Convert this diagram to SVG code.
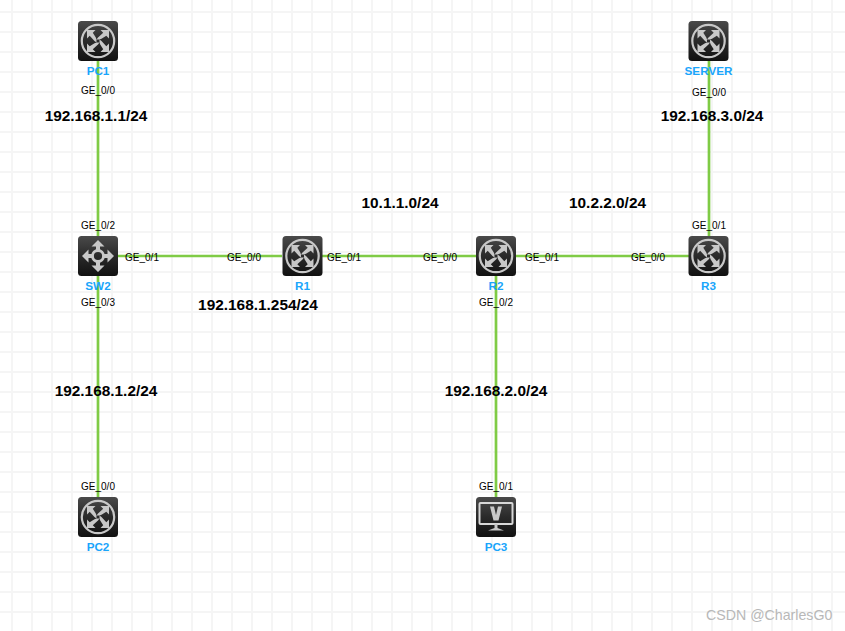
<svg xmlns="http://www.w3.org/2000/svg" width="845" height="631" viewBox="0 0 845 631">
<style>
.grid{stroke:#f5f5f5;stroke-width:2;fill:none}
.link{stroke:#7fcb45;stroke-width:2.7;fill:none}
.port{font:10px "Liberation Sans",Arial,sans-serif;fill:#000;text-anchor:middle}
.name{font:bold 11.7px "Liberation Sans",Arial,sans-serif;fill:#1aa5fb;text-anchor:middle}
.net{font:bold 15.4px "Liberation Sans",Arial,sans-serif;fill:#000;text-anchor:middle}
.glyph{fill:#c8c8c8;stroke:none}
.ring{fill:none;stroke:#c8c8c8;stroke-width:2.2}
.wm{font:14.2px "Liberation Sans",Arial,sans-serif;fill:#b8b8b8}
</style>
<defs>
<linearGradient id="body" x1="0" y1="0" x2="0" y2="1"><stop offset="0" stop-color="#4a4a4a"/><stop offset="0.5" stop-color="#2a2a2a"/><stop offset="1" stop-color="#111"/></linearGradient>
<path id="rarm" class="glyph" d="M11 -11V-2.5L8.3 -5.2L3.5 -2.2L1.5 -1.5L-1.5 -1.5L0 -3.5L5.2 -8.3L2.5 -11Z"/>
<g id="router">
<rect x="-20" y="-20" width="40" height="40" rx="3.5" fill="url(#body)"/>
<circle class="ring" r="16.2"/>
<use href="#rarm"/>
<use href="#rarm" transform="rotate(90)"/>
<use href="#rarm" transform="rotate(180)"/>
<use href="#rarm" transform="rotate(270)"/>
</g>
<g id="switch">
<rect x="-20" y="-20" width="40" height="40" rx="3.5" fill="url(#body)"/>
<circle r="5.5" fill="none" stroke="#c8c8c8" stroke-width="2.8"/>
<path class="glyph" d="M0 -16L6.5 -9.5H2V-6H-2V-9.500H-6.500ZM0 16L6.500 9.500H2V6H-2V9.500H-6.500ZM-16 0L-9.500 -6.500V-2H-6V2H-9.500V6.500ZM16 0L9.500 -6.500V-2H6V2H9.500V6.500Z"/>
</g>
<g id="pc">
<rect x="-20" y="-20" width="40" height="40" rx="3.5" fill="url(#body)"/>
<rect x="-16.500" y="-14" width="33" height="21" rx="1" fill="none" stroke="#d8d8d8" stroke-width="2"/>
<path class="glyph" d="M-6 -10.500H-2L0 -2L2 -10.500H6L2.500 3.500H-2.500Z"/>
<path class="glyph" d="M-1.500 7H1.500V11L8 13.500H-8L-1.500 11Z"/>
</g>
<pattern id="gridp" x="2" y="2" width="20" height="20" patternUnits="userSpaceOnUse"><path class="grid" d="M10 0V20M0 10H20"/></pattern>
</defs>
<rect width="845" height="631" fill="#fff"/>
<rect id="grid" width="845" height="631" fill="url(#gridp)"/>
<g id="connectors">
<path class="link" d="M98 61V236"/>
<path class="link" d="M98 276V497"/>
<path class="link" d="M118 256H282"/>
<path class="link" d="M322 256H476"/>
<path class="link" d="M516 256H689"/>
<path class="link" d="M709 61V236"/>
<path class="link" d="M496 276V497"/>
</g>
<g id="node-pc1"><use href="#router" x="98" y="41"/><text class="name" x="98" y="75">PC1</text></g>
<g id="node-server"><use href="#router" x="708.500" y="41"/><text class="name" x="708.500" y="75">SERVER</text></g>
<g id="node-sw2"><use href="#switch" x="98" y="256"/><text class="name" x="98" y="290">SW2</text></g>
<g id="node-r1"><use href="#router" x="302.500" y="256"/><text class="name" x="302.500" y="290">R1</text></g>
<g id="node-r2"><use href="#router" x="496" y="256"/><text class="name" x="496" y="290">R2</text></g>
<g id="node-r3"><use href="#router" x="708.500" y="256"/><text class="name" x="708.500" y="290">R3</text></g>
<g id="node-pc2"><use href="#router" x="98" y="517"/><text class="name" x="98" y="551">PC2</text></g>
<g id="node-pc3"><use href="#pc" x="496" y="517"/><text class="name" x="496" y="551">PC3</text></g>
<g id="port-labels">
<text class="port" x="98" y="94">GE_0/0</text>
<text class="port" x="98" y="229">GE_0/2</text>
<text class="port" x="142" y="261">GE_0/1</text>
<text class="port" x="244" y="261">GE_0/0</text>
<text class="port" x="344" y="261">GE_0/1</text>
<text class="port" x="440" y="261">GE_0/0</text>
<text class="port" x="542" y="261">GE_0/1</text>
<text class="port" x="648" y="261">GE_0/0</text>
<text class="port" x="98" y="306">GE_0/3</text>
<text class="port" x="98" y="490">GE_0/0</text>
<text class="port" x="496" y="306">GE_0/2</text>
<text class="port" x="496" y="490">GE_0/1</text>
<text class="port" x="709" y="96">GE_0/0</text>
<text class="port" x="709" y="229">GE_0/1</text>
</g>
<g id="net-labels">
<text class="net" x="96" y="121">192.168.1.1/24</text>
<text class="net" x="712" y="121">192.168.3.0/24</text>
<text class="net" x="400" y="208">10.1.1.0/24</text>
<text class="net" x="607.500" y="208">10.2.2.0/24</text>
<text class="net" x="258" y="310">192.168.1.254/24</text>
<text class="net" x="106" y="396">192.168.1.2/24</text>
<text class="net" x="496" y="396">192.168.2.0/24</text>
</g>
<text class="wm" x="706" y="620">CSDN @CharlesG0</text>
</svg>
